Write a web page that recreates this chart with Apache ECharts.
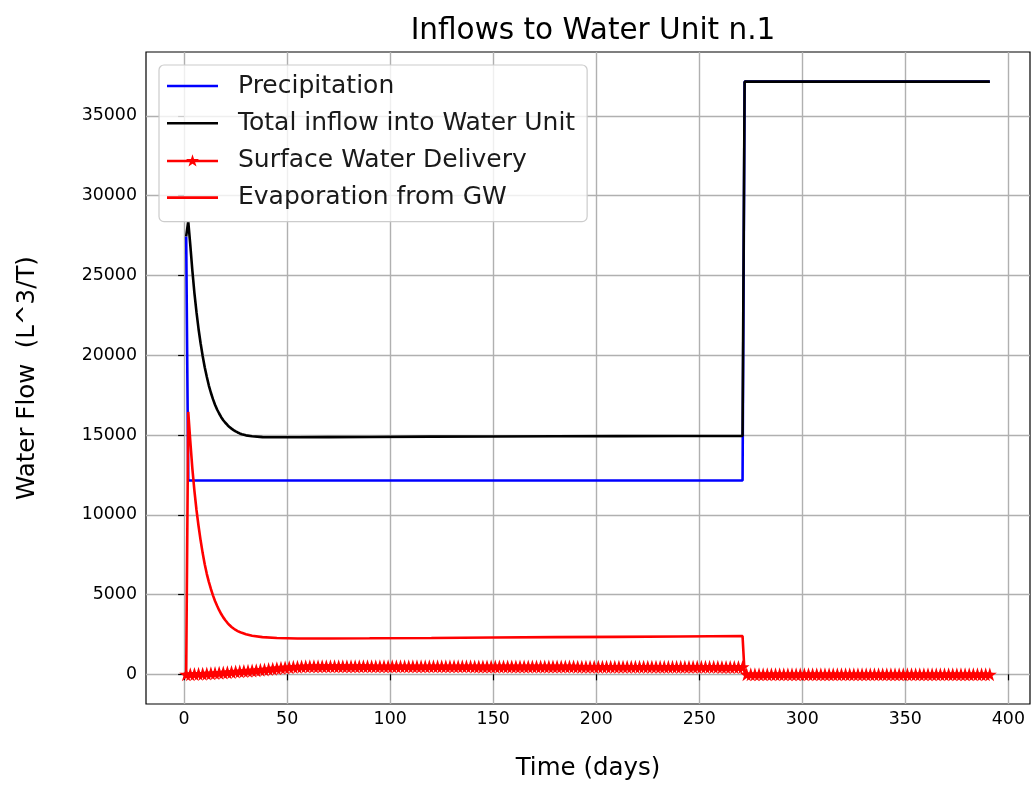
<!DOCTYPE html>
<html>
<head>
<meta charset="utf-8">
<title>Inflows to Water Unit n.1</title>
<script src="https://cdn.jsdelivr.net/npm/echarts@6/dist/echarts.min.js"></script>
<style>
  html, body { margin: 0; padding: 0; background: #ffffff; }
  #chart { width: 1032px; height: 786px; }
</style>
</head>
<body>
<div id="chart"></div>
<script>
// Precipitation: high first day, flat until day 271, then the wet-season step.
const precipDays   = [1, 2, 271, 272, 391];
const precipValues = [27450, 12150, 12150, 37150, 37150];

// Days at which the total inflow and GW evaporation curves are sampled.
const curveDays = [1, 2, 3, 4, 5, 6, 7, 8, 9, 10,
                   11, 12, 13, 14, 15, 16, 17, 18, 19, 20,
                   21, 22, 23, 24, 25, 26, 27, 28, 30, 33,
                   38, 45, 55, 70, 90, 120, 150, 180, 210, 240,
                   271, 272, 391];

const totalValues = [27450, 28400, 26900, 25300, 23900, 22700, 21650, 20750, 19950, 19250,
                     18650, 18100, 17650, 17250, 16900, 16600, 16350, 16120, 15930, 15770,
                     15630, 15500, 15400, 15310, 15230, 15160, 15100, 15050, 14980, 14920,
                     14870, 14860, 14860, 14870, 14880, 14900, 14910, 14920, 14930, 14940,
                     14950, 37150, 37150];

const evapValues = [0, 16450, 14600, 12900, 11500, 10300, 9300, 8400, 7600, 6900,
                    6300, 5800, 5350, 4950, 4600, 4300, 4020, 3780, 3570, 3390,
                    3230, 3090, 2970, 2870, 2780, 2710, 2650, 2600, 2510, 2420,
                    2330, 2280, 2250, 2250, 2260, 2280, 2310, 2330, 2350, 2370,
                    2400, 30, 30];

// Surface water delivery, one value every SWD_STEP days starting on day 1.
const SWD_START = 1;
const SWD_STEP = 2;
const swdValues = [
  0, 10, 20, 30, 40, 50, 70, 80, 100, 110,
  130, 150, 170, 190, 210, 220, 240, 260, 280, 300,
  330, 350, 380, 410, 430, 450, 470, 480, 490, 500,
  510, 510, 510, 510, 510, 510, 510, 510, 510, 510, 510, 510, 510, 510, 510,
  500, 500, 500, 500, 500, 500, 500, 500, 500, 500, 500, 500, 500,
  500, 500, 500, 500, 500, 500, 500, 500, 500, 500, 500, 500,
  490, 490, 490, 490, 490, 490, 490, 490, 490, 490, 490, 490, 490,
  490, 490, 490, 490, 490, 490, 490, 490, 490, 490, 490, 490,
  480, 480, 480, 480, 480, 480, 480, 480, 480, 480,
  480, 480, 480, 480, 480, 480, 480, 480, 480, 480,
  470, 470, 470, 470, 470, 470, 470, 470, 470, 470, 470, 470, 470, 470, 470,
  460, 460, 460, 460, 460, 460,
  0, 0, 0, 0, 0, 0, 0, 0, 0, 0, 0, 0, 0, 0, 0, 0, 0, 0, 0, 0,
  0, 0, 0, 0, 0, 0, 0, 0, 0, 0, 0, 0, 0, 0, 0, 0, 0, 0, 0, 0,
  0, 0, 0, 0, 0, 0, 0, 0, 0, 0, 0, 0, 0, 0, 0, 0, 0, 0, 0, 0
];

const xTicks = [0, 50, 100, 150, 200, 250, 300, 350, 400];
const yTicks = [0, 5000, 10000, 15000, 20000, 25000, 30000, 35000];

const seriesNames = ['Precipitation', 'Total inflow into Water Unit',
                     'Surface Water Delivery', 'Evaporation from GW'];

const pairs = (xs, ys) => xs.map((x, i) => [x, ys[i]]);
const swdData = swdValues.map((v, i) => [SWD_START + i * SWD_STEP, v]);

const FONT = 'DejaVu Sans';
const STAR = 'path://M100,0L122.45,69.1L195.11,69.1L136.33,111.8L158.78,180.9L100,138.2L41.22,180.9L63.67,111.8L4.89,69.1L77.55,69.1Z';
const LINE_ICON = 'path://M0,0H51V2.6H0Z';
const STAR_LINE_ICON = 'path://M0,5.2H51V7.8H0Z M25.5,-0.3L27.03,4.4L31.97,4.4L27.97,7.3L29.5,12L25.5,9.1L21.5,12L23.03,7.3L19.03,4.4L23.97,4.4Z';

const chart = echarts.init(document.getElementById('chart'), null, { renderer: 'canvas' });

chart.setOption({
  animation: false,
  backgroundColor: '#ffffff',
  title: {
    text: 'Inflows to Water Unit n.1',
    left: 588, top: 11, textAlign: 'center',
    textStyle: { fontFamily: FONT, fontSize: 29.5, fontWeight: 'normal', color: '#000' }
  },
  grid: {
    left: 146, right: 2, top: 52, bottom: 81,
    show: true, borderColor: '#000', borderWidth: 1.2, backgroundColor: 'transparent'
  },
  legend: {
    orient: 'vertical', left: 159, top: 65,
    data: [
      { name: seriesNames[0], icon: LINE_ICON },
      { name: seriesNames[1], icon: LINE_ICON },
      { name: seriesNames[2], icon: STAR_LINE_ICON },
      { name: seriesNames[3], icon: LINE_ICON }
    ],
    itemWidth: 51, itemHeight: 13, itemGap: 11.2,
    padding: [8, 12, 11, 8],
    backgroundColor: 'rgba(255,255,255,0.8)',
    borderColor: '#cccccc', borderWidth: 1.2, borderRadius: 5,
    textStyle: { fontFamily: FONT, fontSize: 25, lineHeight: 26, color: '#1a1a1a', padding: [0, 0, 0, 15] },
    selectedMode: false
  },
  xAxis: {
    type: 'value', min: -18.5, max: 410.5,
    name: 'Time (days)', nameLocation: 'middle', nameGap: 52,
    nameTextStyle: { fontFamily: FONT, fontSize: 24.5, color: '#000' },
    axisLine: { show: false },
    axisTick: { show: true, customValues: xTicks, length: 6, lineStyle: { color: '#000', width: 1.2 } },
    axisLabel: { customValues: xTicks, fontFamily: FONT, fontSize: 17.4, color: '#000', margin: 7,
                 formatter: v => String(v) },
    splitLine: { show: true, lineStyle: { color: '#b0b0b0', width: 1.4 } }
  },
  yAxis: {
    type: 'value', min: -1860, max: 39010,
    name: 'Water Flow  (L^3/T)', nameLocation: 'middle', nameGap: 106,
    nameTextStyle: { fontFamily: FONT, fontSize: 24.5, color: '#000' },
    axisLine: { show: false },
    axisTick: { show: true, customValues: yTicks, length: 6, lineStyle: { color: '#000', width: 1.2 } },
    axisLabel: { customValues: yTicks, fontFamily: FONT, fontSize: 17.4, color: '#000', margin: 9,
                 formatter: v => String(v) },
    splitLine: { show: true, lineStyle: { color: '#b0b0b0', width: 1.4 } }
  },
  series: [
    {
      name: seriesNames[0], type: 'line', data: pairs(precipDays, precipValues),
      showSymbol: false, color: '#0000ff', lineStyle: { width: 2.6, color: '#0000ff' }
    },
    {
      name: seriesNames[1], type: 'line', data: pairs(curveDays, totalValues),
      showSymbol: false, color: '#000000', lineStyle: { width: 2.6, color: '#000000' }
    },
    {
      name: seriesNames[2], type: 'line', data: swdData,
      symbol: STAR, symbolSize: 14, showSymbol: true, color: '#ff0000',
      itemStyle: { color: '#ff0000' }, lineStyle: { width: 2.6, color: '#ff0000' }
    },
    {
      name: seriesNames[3], type: 'line', data: pairs(curveDays, evapValues),
      showSymbol: false, color: '#ff0000', lineStyle: { width: 2.6, color: '#ff0000' }
    }
  ]
});
</script>
</body>
</html>
